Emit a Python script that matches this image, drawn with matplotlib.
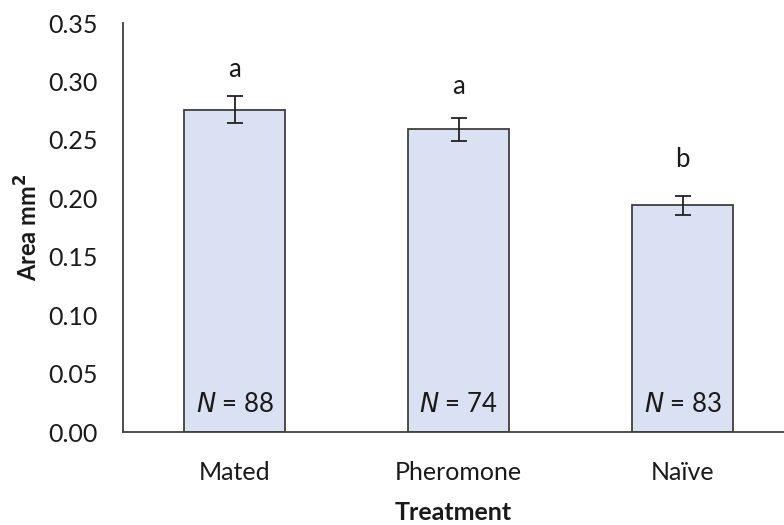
import matplotlib
matplotlib.use('Agg')
import matplotlib.pyplot as plt

treatments = ['Mated', 'Pheromone', 'Na\u00efve']
area = [0.276, 0.259, 0.194]
err = [0.0115, 0.010, 0.008]
letters = ['a', 'a', 'b']
letter_y = [0.310, 0.2955, 0.233]
n_counts = [88, 74, 83]

plt.rcParams['font.family'] = ['Lato', 'DejaVu Sans']
TXT = '#1a1a1a'
EDGE = '#3f3f3f'

fig = plt.figure(figsize=(7.84, 5.25), dpi=100)
ax = fig.add_axes([0.1565, 0.177, 0.8435, 0.779])

x = range(len(treatments))
ax.bar(x, area, width=0.45, color='#d9e1f2', edgecolor=EDGE, linewidth=1.3,
       yerr=err, error_kw=dict(ecolor='#222222', elinewidth=1.3, capsize=6, capthick=1.3))

for i in x:
    ax.text(i, letter_y[i], letters[i], ha='center', va='center',
            fontsize=18.5, color=TXT)
    ax.text(i, 0.024, f'$N$ = {n_counts[i]}', ha='center', va='center',
            fontsize=18.5, color=TXT)

ax.set_xlim(-0.5, 2.452)
ax.set_ylim(0, 0.35)
ax.set_yticks([0, 0.05, 0.10, 0.15, 0.20, 0.25, 0.30, 0.35])
ax.set_yticklabels([f'{v:.2f}' for v in ax.get_yticks()])
ax.set_xticks(list(x))
ax.set_xticklabels(treatments)
ax.tick_params(length=0, labelsize=18, colors=TXT)
ax.tick_params(axis='y', pad=18)
ax.tick_params(axis='x', pad=21)

for s in ['top', 'right']:
    ax.spines[s].set_visible(False)
for s in ['left', 'bottom']:
    ax.spines[s].set_color(EDGE)
    ax.spines[s].set_linewidth(1.3)

ax.set_xlabel('Treatment', fontsize=18, fontweight='bold', color=TXT, labelpad=12)
ax.set_ylabel('Area mm$^\\mathbf{2}$', fontsize=17, fontweight='bold', color=TXT, labelpad=5)

fig.savefig('out.png', dpi=100)
